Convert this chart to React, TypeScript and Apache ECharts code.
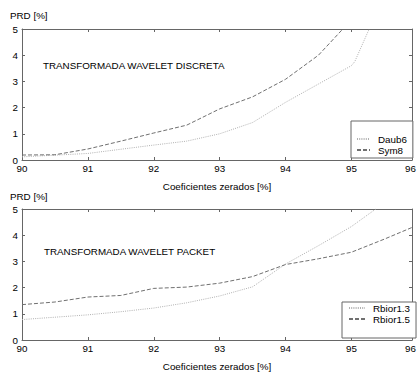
import React, { useEffect, useRef } from "react";
import * as echarts from "echarts";

const daub6X = [90, 91, 92, 92.5, 93, 93.5, 94, 94.5, 95, 95.05, 95.27];
const daub6Y = [0.12, 0.25, 0.57, 0.72, 1.0, 1.43, 2.2, 2.9, 3.6, 3.75, 5.0];
const sym8X = [90, 90.5, 91, 91.5, 92, 92.5, 93, 93.5, 94, 94.5, 94.87];
const sym8Y = [0.19, 0.2, 0.42, 0.72, 1.03, 1.33, 1.95, 2.41, 3.08, 4.0, 5.0];
const rb13X = [90, 90.5, 91, 91.5, 92, 92.5, 93, 93.5, 94, 94.5, 95, 95.37];
const rb13Y = [0.78, 0.87, 0.96, 1.08, 1.22, 1.42, 1.68, 2.03, 2.9, 3.6, 4.33, 5.0];
const rb15X = [90, 90.5, 91, 91.5, 92, 92.5, 93, 93.5, 94, 94.5, 95, 95.5, 96];
const rb15Y = [1.35, 1.45, 1.64, 1.7, 1.97, 2.02, 2.17, 2.42, 2.88, 3.1, 3.35, 3.85, 4.38];

const xMin = 90;
const xMax = 95.92;
const edgeLabel = "96";
const topTitle = "TRANSFORMADA WAVELET DISCRETA";
const bottomTitle = "TRANSFORMADA WAVELET PACKET";
const xName = "Coeficientes zerados [%]";
const yName = "PRD [%]";

const zip = (xs: number[], ys: number[]) => xs.map((x, i) => [x, ys[i]]);

const FONT = "Liberation Sans";
const FS = 9.8;

export default function App() {
  const ref = useRef<HTMLDivElement>(null);
  useEffect(() => {
    const chart = echarts.init(ref.current!, null, { renderer: "svg" });
    const frame = "#666";
    const mkX = (gi: number, pos: "top" | "bottom") => ({
      type: "value" as const,
      gridIndex: gi,
      position: pos,
      min: xMin,
      max: xMax,
      interval: 1,
      name: pos === "bottom" ? xName : "",
      nameLocation: "middle" as const,
      nameGap: 21,
      nameTextStyle: { fontFamily: FONT, fontSize: FS, color: "#000" },
      axisLine: { show: true, onZero: false, lineStyle: { color: frame, width: 1 } },
      axisTick: { show: true, inside: true, length: 3, lineStyle: { color: frame } },
      axisLabel: {
        show: pos === "bottom",
        showMaxLabel: false,
        margin: 3,
        fontFamily: FONT,
        fontSize: FS,
        color: "#000",
      },
      splitLine: { show: false },
    });
    const mkY = (gi: number, pos: "left" | "right") => ({
      type: "value" as const,
      gridIndex: gi,
      position: pos,
      min: 0,
      max: 5,
      interval: 1,
      axisLine: { show: true, onZero: false, lineStyle: { color: frame, width: 1 } },
      axisTick: { show: true, inside: true, length: 3, lineStyle: { color: frame } },
      axisLabel: {
        show: pos === "left",
        margin: 4,
        fontFamily: FONT,
        fontSize: FS,
        color: "#000",
      },
      splitLine: { show: false },
    });
    const dashed = { color: "#707070", width: 1, type: [4, 2] as number[] };
    const dotted = { color: "#b0b0b0", width: 1, type: [1, 1.2] as number[] };
    const line = (name: string, data: number[][], gi: number, ls: any) => ({
      name,
      type: "line" as const,
      xAxisIndex: gi * 2,
      yAxisIndex: gi * 2,
      data,
      showSymbol: false,
      symbol: "none",
      lineStyle: ls,
      itemStyle: { color: ls.color },
      clip: true,
    });
    const legendBase = {
      orient: "vertical" as const,
      backgroundColor: "#fff",
      borderColor: frame,
      borderWidth: 1,
      itemGap: 1,
      itemHeight: 10,
      itemStyle: { opacity: 0 },
      textStyle: { fontFamily: FONT, fontSize: FS, color: "#000", padding: [0, 0, 0, 3] },
    };
    const edgeText = (y: number) => ({
      type: "text",
      x: 416,
      y,
      style: { text: edgeLabel, fontFamily: FONT, fontSize: FS, fill: "#000", align: "right" },
    });
    chart.setOption({
      animation: false,
      backgroundColor: "#fff",
      grid: [
        { left: 22, top: 29, width: 390, height: 131 },
        { left: 22, top: 209, width: 390, height: 131 },
      ],
      xAxis: [mkX(0, "bottom"), mkX(0, "top"), mkX(1, "bottom"), mkX(1, "top")],
      yAxis: [mkY(0, "left"), mkY(0, "right"), mkY(1, "left"), mkY(1, "right")],
      legend: [
        {
          ...legendBase,
          data: ["Daub6", "Sym8"],
          left: 351,
          top: 121,
          itemWidth: 13,
          padding: [13, 6, 3, 5],
        },
        {
          ...legendBase,
          data: ["Rbior1.3", "Rbior1.5"],
          left: 342,
          top: 302,
          itemWidth: 16,
          padding: [1, 6, 14, 6],
        },
      ],
      series: [
        line("Daub6", zip(daub6X, daub6Y), 0, dotted),
        line("Sym8", zip(sym8X, sym8Y), 0, dashed),
        line("Rbior1.3", zip(rb13X, rb13Y), 1, dotted),
        line("Rbior1.5", zip(rb15X, rb15Y), 1, dashed),
      ],
      graphic: [
        { type: "text", left: 10, top: 10, style: { text: yName, fontFamily: FONT, fontSize: FS, fill: "#000" } },
        { type: "text", left: 10, top: 191, style: { text: yName, fontFamily: FONT, fontSize: FS, fill: "#000" } },
        { type: "text", left: 43, top: 60, style: { text: topTitle, fontFamily: FONT, fontSize: FS, fill: "#000" } },
        { type: "text", left: 44, top: 246, style: { text: bottomTitle, fontFamily: FONT, fontSize: FS, fill: "#000" } },
        edgeText(163),
        edgeText(343),
      ],
    });
    return () => chart.dispose();
  }, []);
  return <div ref={ref} style={{ width: 417, height: 372, position: "fixed", left: 0, top: 0 }} />;
}
